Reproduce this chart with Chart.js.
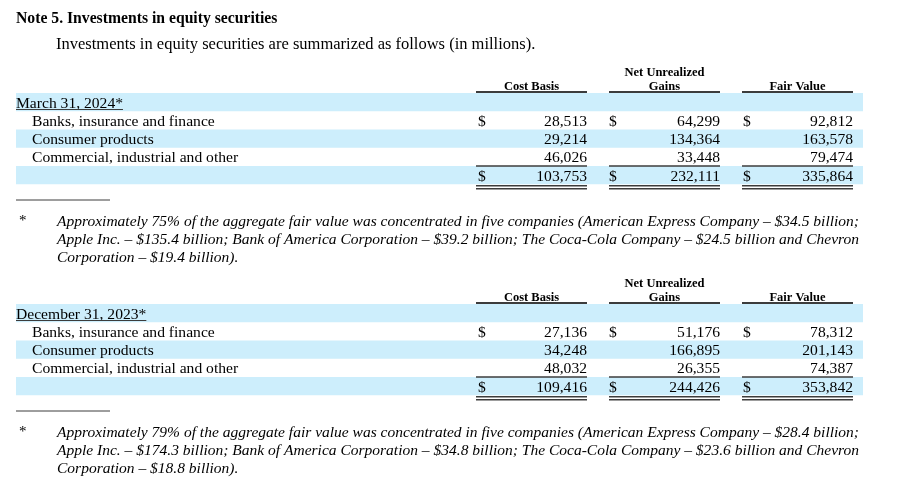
<!DOCTYPE html>
<html>
<head>
<meta charset="utf-8">
<script src="https://cdn.jsdelivr.net/npm/chart.js@4.4.1/dist/chart.umd.min.js"></script>
<style>
  html, body { margin: 0; padding: 0; background: #fff; }
  #wrap { width: 898px; height: 484px; position: relative; }
</style>
</head>
<body>
<div id="wrap"><canvas id="noteChart"></canvas></div>
<script>
// ---- data (in millions) ----
const title = 'Note 5. Investments in equity securities';
const intro = 'Investments in equity securities are summarized as follows (in millions).';
const headerTop = ['', 'Net Unrealized', ''];
const headerBottom = ['Cost Basis', 'Gains', 'Fair Value'];
const periods = ['March 31, 2024*', 'December 31, 2023*'];
const categories = ['Banks, insurance and finance', 'Consumer products', 'Commercial, industrial and other'];

const costBasis2024 = [28513, 29214, 46026];
const gains2024 = [64299, 134364, 33448];
const fairValue2024 = [92812, 163578, 79474];
const totals2024 = [103753, 232111, 335864];

const costBasis2023 = [27136, 34248, 48032];
const gains2023 = [51176, 166895, 26355];
const fairValue2023 = [78312, 201143, 74387];
const totals2023 = [109416, 244426, 353842];

const footnote2024 = [
  'Approximately 75% of the aggregate fair value was concentrated in five companies (American Express Company \u2013 $34.5 billion;',
  'Apple Inc. \u2013 $135.4 billion; Bank of America Corporation \u2013 $39.2 billion; The Coca-Cola Company \u2013 $24.5 billion and Chevron',
  'Corporation \u2013 $19.4 billion).'
];
const footnote2023 = [
  'Approximately 79% of the aggregate fair value was concentrated in five companies (American Express Company \u2013 $28.4 billion;',
  'Apple Inc. \u2013 $174.3 billion; Bank of America Corporation \u2013 $34.8 billion; The Coca-Cola Company \u2013 $23.6 billion and Chevron',
  'Corporation \u2013 $18.8 billion).'
];

// ---- layout ----
const SERIF = '"Liberation Serif", "Times New Roman", Times, serif';
const BAND = '#cdeefc';
const RULE = '#3c3c3c';
const bandLeft = 16, bandRight = 863;
const colLeft = [476, 609, 742];
const colRight = [587, 720, 853];
const dollarX = [478, 609, 743];
const rowH = 18.25;
const tableTop = [93, 304];
const footTop = [200, 411];
const footWidth = 802;

const tables = [
  { label: periods[0], cols: [costBasis2024, gains2024, fairValue2024], totals: totals2024, note: footnote2024 },
  { label: periods[1], cols: [costBasis2023, gains2023, fairValue2023], totals: totals2023, note: footnote2023 }
];

const baseline = (t, r) => tableTop[t] + r * rowH + 14.5;

// one scatter dataset per table column, points placed by the value scales
const datasets = [];
tables.forEach((tb, t) => {
  tb.cols.forEach((vals, c) => {
    const pts = vals.map((v, i) => ({ x: colRight[c], y: baseline(t, i + 1), v: v, dollar: i === 0 }));
    pts.push({ x: colRight[c], y: baseline(t, 4), v: tb.totals[c], dollar: true });
    datasets.push({ label: headerBottom[c] + ' ' + tb.label, data: pts, col: c, pointRadius: 0 });
  });
});

function fitText(ctx, text, x, y, width) {
  const w = ctx.measureText(text).width;
  ctx.save();
  ctx.translate(x, y);
  ctx.scale(width / w, 1);
  ctx.fillText(text, 0, 0);
  ctx.restore();
}

function hline(ctx, x1, x2, y, lw) {
  ctx.strokeStyle = RULE;
  ctx.lineWidth = lw;
  ctx.beginPath();
  ctx.moveTo(x1, y);
  ctx.lineTo(x2, y);
  ctx.stroke();
}

const notePlugin = {
  id: 'notePlugin',
  beforeDatasetsDraw(chart) {
    const ctx = chart.ctx;
    const px = v => chart.scales.x.getPixelForValue(v);
    const py = v => chart.scales.y.getPixelForValue(v);
    ctx.save();
    ctx.fillStyle = BAND;
    tables.forEach((tb, t) => {
      [0, 2, 4].forEach(r => {
        const top = py(tableTop[t] + r * rowH);
        const bot = py(tableTop[t] + (r + 1) * rowH);
        ctx.fillRect(px(bandLeft), top, px(bandRight) - px(bandLeft), bot - top);
      });
    });
    ctx.restore();
  },
  afterDatasetsDraw(chart) {
    const ctx = chart.ctx;
    const px = v => chart.scales.x.getPixelForValue(v);
    const py = v => chart.scales.y.getPixelForValue(v);
    ctx.save();
    ctx.fillStyle = '#000';
    ctx.textBaseline = 'alphabetic';

    ctx.font = 'bold 15.7px ' + SERIF;
    ctx.textAlign = 'left';
    ctx.fillText(title, px(16), py(23));
    ctx.font = '16.5px ' + SERIF;
    ctx.fillText(intro, px(56), py(49));

    tables.forEach((tb, t) => {
      const top = tableTop[t];
      // column headers
      ctx.font = 'bold 12.5px ' + SERIF;
      ctx.textAlign = 'center';
      colLeft.forEach((l, c) => {
        const cx = px((l + colRight[c]) / 2);
        if (headerTop[c]) ctx.fillText(headerTop[c], cx, py(top - 17));
        ctx.fillText(headerBottom[c], cx, py(top - 3));
        hline(ctx, px(l), px(colRight[c]), py(top - 1), 2);
      });

      // row labels
      ctx.font = '15.6px ' + SERIF;
      ctx.textAlign = 'left';
      ctx.fillText(tb.label, px(16), py(baseline(t, 0)));
      const lw = ctx.measureText(tb.label).width;
      hline(ctx, px(16), px(16) + lw, py(baseline(t, 0) + 2), 1);
      categories.forEach((cat, i) => ctx.fillText(cat, px(32), py(baseline(t, i + 1))));

      // total rules
      colLeft.forEach((l, c) => {
        hline(ctx, px(l), px(colRight[c]), py(top + 4 * rowH), 1.3);
        hline(ctx, px(l), px(colRight[c]), py(top + 5 * rowH + 1.5), 1.5);
        hline(ctx, px(l), px(colRight[c]), py(top + 5 * rowH + 4.5), 1.5);
      });

      // footnote
      const ft = footTop[t];
      hline(ctx, px(16), px(110), py(ft), 1);
      ctx.font = '15px ' + SERIF;
      ctx.fillText('*', px(19), py(ft + 25));
      ctx.font = 'italic 15.5px ' + SERIF;
      const k = footWidth / ctx.measureText(tb.note[0]).width;
      tb.note.forEach((line, i) => {
        const w = i < 2 ? footWidth : ctx.measureText(line).width * k;
        fitText(ctx, line, px(57), py(ft + 26 + i * 18), w);
      });
    });

    // numeric cells, positioned by the dataset elements
    ctx.font = '15.6px ' + SERIF;
    chart.data.datasets.forEach((ds, di) => {
      const meta = chart.getDatasetMeta(di);
      meta.data.forEach((el, i) => {
        const d = ds.data[i];
        ctx.textAlign = 'right';
        ctx.fillText(d.v.toLocaleString('en-US'), el.x, el.y);
        if (d.dollar) {
          ctx.textAlign = 'left';
          ctx.fillText('$', px(dollarX[ds.col]), el.y);
        }
      });
    });
    ctx.restore();
  }
};

new Chart(document.getElementById('noteChart'), {
  type: 'scatter',
  data: { datasets: datasets },
  options: {
    responsive: true,
    maintainAspectRatio: false,
    animation: false,
    layout: { padding: 0 },
    plugins: { legend: { display: false }, tooltip: { enabled: false } },
    scales: {
      x: { type: 'linear', min: 0, max: 898, display: false },
      y: { type: 'linear', min: 0, max: 484, reverse: true, display: false }
    }
  },
  plugins: [notePlugin]
});
</script>
</body>
</html>
